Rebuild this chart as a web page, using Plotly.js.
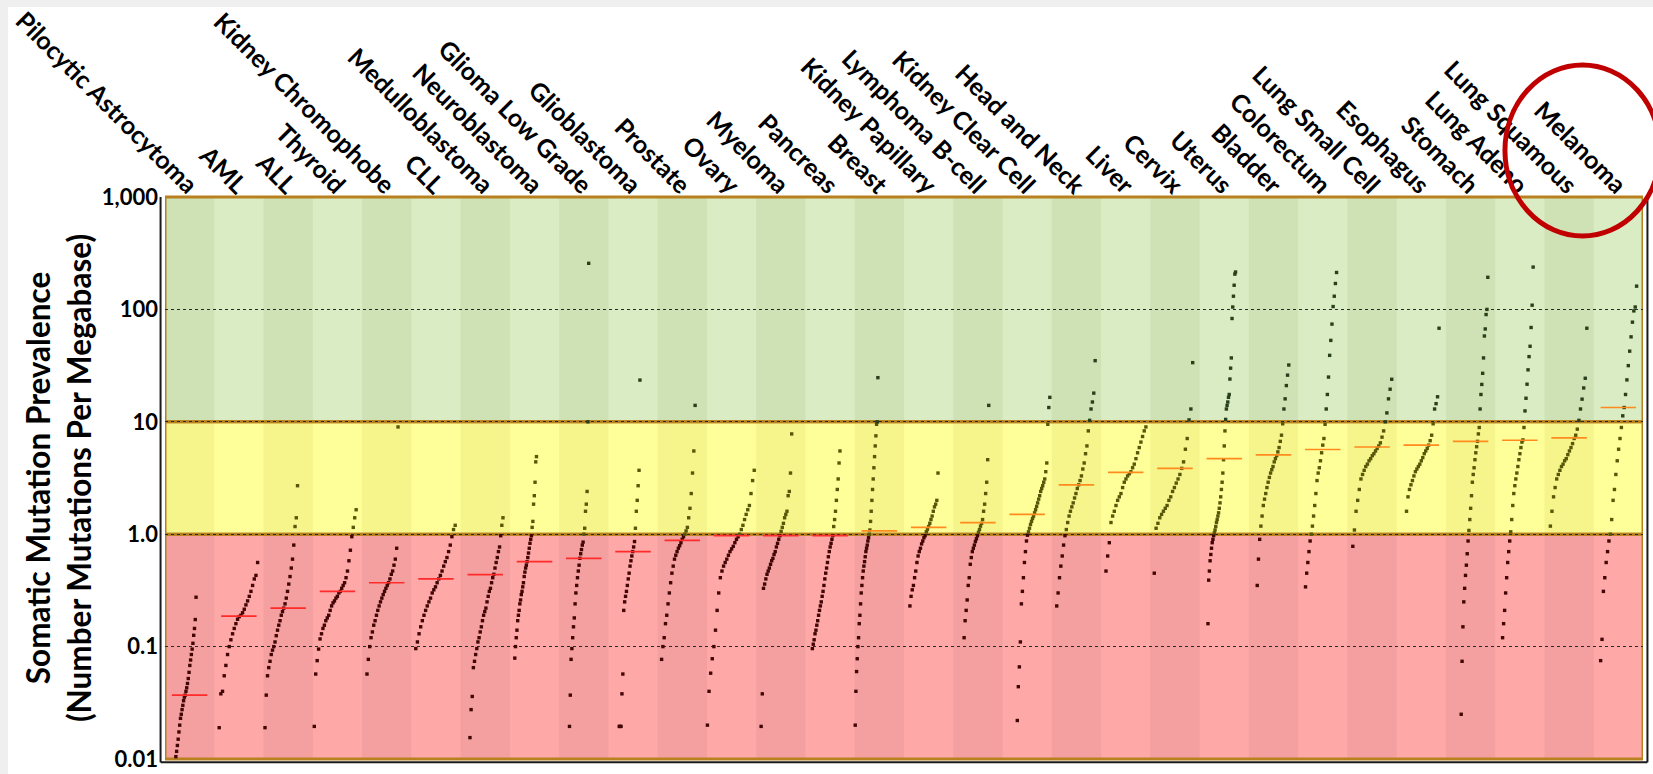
<!DOCTYPE html>
<html><head><meta charset="utf-8">
<script src="https://cdn.plot.ly/plotly-3.0.1.min.js"></script>
<style>
html,body{margin:0;padding:0;background:#fff;overflow:hidden;}
#chart{position:absolute;left:0;top:0;width:1653px;height:774px;}
.strip{position:absolute;background:#efefef;}
</style></head><body>
<div id="chart"></div>
<div class="strip" style="left:0;top:0;width:1653px;height:7px"></div>
<div class="strip" style="left:0;top:0;width:8px;height:774px"></div>
<script>
// ---------- DATA ----------
const categories = ['Pilocytic Astrocytoma','AML','ALL','Thyroid','Kidney Chromophobe','CLL','Medulloblastoma','Neuroblastoma','Glioma Low Grade','Glioblastoma','Prostate','Ovary','Myeloma','Pancreas','Breast','Kidney Papillary','Lymphoma B-cell','Kidney Clear Cell','Head and Neck','Liver','Cervix','Uterus','Bladder','Colorectum','Lung Small Cell','Esophagus','Stomach','Lung Adeno','Lung Squamous','Melanoma'];

const pilocyticAstrocytoma = [0.0105,0.0117,0.0132,0.015,0.0174,0.02,0.023,0.025,0.0275,0.03,0.033,0.0355,0.037,0.04,0.043,0.047,0.052,0.059,0.068,0.076,0.085,0.095,0.107,0.126,0.145,0.174,0.275];
const aml = [0.019,0.038,0.040,0.055,0.068,0.085,0.10,0.115,0.13,0.145,0.16,0.175,0.185,0.19,0.20,0.215,0.235,0.255,0.28,0.31,0.35,0.40,0.43,0.56];
const allLeuk = [0.019,0.037,0.055,0.065,0.074,0.085,0.093,0.10,0.11,0.125,0.14,0.155,0.17,0.19,0.205,0.22,0.24,0.27,0.31,0.36,0.42,0.5,0.6,0.8,1.17,1.4,2.7];
const thyroid = [0.0195,0.057,0.075,0.095,0.117,0.13,0.145,0.155,0.17,0.18,0.19,0.21,0.23,0.245,0.255,0.27,0.28,0.30,0.31,0.33,0.35,0.37,0.41,0.47,0.58,0.72,0.95,1.15,1.4,1.65];
const kidneyChromophobe = [0.057,0.077,0.10,0.12,0.135,0.155,0.17,0.19,0.21,0.23,0.25,0.27,0.29,0.31,0.33,0.35,0.37,0.40,0.44,0.47,0.53,0.6,0.75,9.0];
const cll = [0.096,0.11,0.13,0.15,0.17,0.19,0.21,0.23,0.25,0.27,0.30,0.32,0.34,0.37,0.40,0.43,0.47,0.52,0.57,0.62,0.70,0.80,0.95,1.1,1.2];
const medulloblastoma = [0.0155,0.0275,0.036,0.065,0.074,0.085,0.096,0.11,0.12,0.135,0.15,0.17,0.19,0.205,0.22,0.25,0.28,0.31,0.33,0.37,0.41,0.44,0.50,0.56,0.62,0.70,0.77,0.97,1.2,1.4];
const neuroblastoma = [0.079,0.10,0.12,0.14,0.17,0.19,0.21,0.24,0.26,0.29,0.31,0.34,0.37,0.42,0.46,0.50,0.53,0.57,0.62,0.68,0.75,0.83,0.9,0.97,1.15,1.3,1.85,2.2,2.9,4.4,4.9];
const gliomaLowGrade = [0.0195,0.037,0.077,0.096,0.12,0.15,0.18,0.24,0.30,0.35,0.41,0.47,0.53,0.61,0.67,0.73,0.80,0.85,1.0,1.13,1.6,1.85,2.4,10,257];
const glioblastoma = [0.0195,0.0195,0.0195,0.038,0.057,0.21,0.25,0.28,0.31,0.35,0.40,0.45,0.52,0.58,0.64,0.70,0.77,0.86,1.13,1.6,2.0,2.7,3.7,23.5];
const prostate = [0.077,0.10,0.12,0.16,0.19,0.24,0.30,0.37,0.45,0.52,0.60,0.65,0.70,0.75,0.79,0.84,0.9,0.95,1.0,1.07,1.15,1.4,1.7,2.3,3.5,5.5,14];
const ovary = [0.02,0.04,0.058,0.078,0.10,0.14,0.21,0.30,0.41,0.47,0.52,0.56,0.60,0.65,0.70,0.74,0.78,0.84,0.90,0.95,1.0,1.1,1.2,1.35,1.5,1.65,1.8,2.3,3.0,3.7];
const myeloma = [0.0195,0.038,0.33,0.36,0.40,0.44,0.47,0.50,0.54,0.58,0.61,0.66,0.70,0.77,0.83,0.90,0.97,1.06,1.15,1.25,1.4,1.5,1.6,2.2,2.4,3.5,7.8];
const pancreas = [0.096,0.105,0.115,0.13,0.14,0.155,0.17,0.19,0.21,0.23,0.25,0.28,0.31,0.35,0.40,0.45,0.50,0.56,0.63,0.70,0.77,0.83,0.90,0.97,1.17,1.35,1.6,2.0,2.5,3.1,4.3,5.5];
const breast = [0.02,0.04,0.06,0.078,0.10,0.12,0.16,0.19,0.24,0.30,0.35,0.41,0.47,0.52,0.57,0.63,0.70,0.75,0.80,0.87,0.93,1.0,1.09,1.3,1.6,2.0,2.5,3.1,3.9,4.9,6.1,7.5,9.5,10,24.7];
const kidneyPapillary = [0.23,0.28,0.32,0.35,0.41,0.47,0.56,0.64,0.70,0.75,0.82,0.87,0.93,0.97,1.05,1.1,1.17,1.25,1.35,1.45,1.6,1.75,1.85,2.0,3.5];
const lymphomaBCell = [0.12,0.17,0.21,0.26,0.35,0.41,0.54,0.62,0.70,0.75,0.80,0.86,0.91,0.97,1.04,1.1,1.18,1.25,1.35,1.6,1.85,2.3,2.9,4.6,14];
const kidneyClearCell = [0.022,0.044,0.066,0.11,0.24,0.31,0.41,0.56,0.70,0.87,0.98,1.05,1.13,1.22,1.3,1.38,1.45,1.55,1.65,1.77,1.9,2.05,2.2,2.4,2.55,2.7,2.9,3.1,3.6,4.3,9.5,13.4,16.5];
const headAndNeck = [0.23,0.30,0.41,0.52,0.64,0.80,0.97,1.1,1.27,1.45,1.6,1.75,1.9,2.1,2.3,2.55,2.75,3.0,3.3,3.8,4.3,5.2,6.1,8.3,10.3,13,15,18,35];
const liver = [0.47,0.64,0.84,1.27,1.45,1.6,1.8,2.0,2.15,2.3,2.6,2.9,3.1,3.3,3.45,3.6,3.9,4.2,4.7,5.3,5.9,6.6,7.4,8.3,9.0];
const cervix = [0.45,1.13,1.25,1.4,1.5,1.6,1.7,1.8,2.0,2.15,2.4,2.6,2.85,3.1,3.4,3.85,4.4,5.7,7.1,10.4,13,33.6];
const uterus = [0.16,0.39,0.47,0.58,0.66,0.75,0.84,0.90,0.97,1.03,1.09,1.17,1.27,1.35,1.45,1.55,1.7,1.9,2.15,2.5,2.9,3.5,4.6,6.1,8.3,10.5,13,14,15,16.5,17.5,24,30,37,83,105,131,164,206,215];
const bladder = [0.35,0.60,0.90,1.18,1.45,1.8,2.05,2.3,2.6,2.9,3.2,3.5,3.75,4.0,4.4,4.7,5.0,5.4,5.9,6.7,7.6,9.6,13,16,21,26,32];
const colorectum = [0.34,0.45,0.56,0.70,0.87,1.0,1.18,1.45,1.8,2.3,3.0,3.5,3.9,4.5,5.3,6.2,7.1,9.5,13,17.5,25,39,53,74,106,131,170,213];
const lungSmallCell = [0.78,1.09,1.6,2.0,2.5,3.1,3.4,3.7,4.0,4.2,4.5,4.7,5.0,5.2,5.5,5.8,6.1,6.5,7.3,8.3,10,12,16,19.5,23.9];
const esophagus = [1.6,2.15,2.5,2.75,3.0,3.3,3.6,3.8,4.0,4.2,4.5,4.8,5.2,5.5,5.8,6.2,6.8,7.6,9.6,13,14.5,16.7,68];
const stomach = [0.025,0.074,0.15,0.25,0.33,0.43,0.53,0.67,0.87,1.08,1.35,1.7,2.2,2.9,3.4,3.9,4.6,5.3,6.0,6.7,7.8,8.9,13,17.5,21.5,27,37,58,67,90,100,193];
const lungAdeno = [0.12,0.16,0.21,0.30,0.41,0.56,0.70,0.87,1.05,1.35,1.8,2.3,2.7,3.1,3.5,4.0,4.6,5.2,5.9,6.6,6.9,8.9,12.5,16.2,21.6,29,38,47,69,109,238];
const lungSquamous = [1.18,1.6,2.15,2.6,3.1,3.4,3.7,4.0,4.2,4.5,4.7,5.1,5.5,5.9,6.4,7.1,7.6,8.6,10.3,13,15.9,20,24.4,68];
const melanoma = [0.075,0.116,0.31,0.41,0.56,0.70,0.87,1.0,1.35,2.0,2.5,3.4,4.5,5.7,7.1,8.9,11.3,13.4,17.5,23.6,31.6,42.5,57,77,97,105,161];

const seriesValues = [pilocyticAstrocytoma,aml,allLeuk,thyroid,kidneyChromophobe,cll,medulloblastoma,neuroblastoma,gliomaLowGrade,glioblastoma,prostate,ovary,myeloma,pancreas,breast,kidneyPapillary,lymphomaBCell,kidneyClearCell,headAndNeck,liver,cervix,uterus,bladder,colorectum,lungSmallCell,esophagus,stomach,lungAdeno,lungSquamous,melanoma];

const medianValues = [0.037,0.187,0.22,0.31,0.37,0.40,0.437,0.57,0.61,0.70,0.88,0.97,0.97,0.97,1.07,1.15,1.27,1.5,2.75,3.55,3.85,4.7,5.07,5.67,5.97,6.2,6.7,6.85,7.2,13.4];

const tickValues = [0.01,0.1,1,10,100,1000];
const tickLabels = ['0.01','0.1','1.0','10','100','1,000'];
const bandLimits = [0.01,1,10,1000];
const yTitle = 'Somatic Mutation Prevalence<br>(Number Mutations Per Megabase)';

// ---------- LAYOUT SETTINGS (not data) ----------
const pointSpan = [[-0.28,0.13],[-0.40,0.38],[-0.47,0.19],[-0.47,0.38],[-0.40,0.23],[-0.41,0.39],[-0.31,0.36],[-0.40,0.04],[-0.29,0.10],[-0.28,0.14],[-0.42,0.26],[-0.49,0.46],[-0.40,0.22],[-0.36,0.20],[-0.49,-0.03],[-0.38,0.19],[-0.28,0.22],[-0.20,0.46],[-0.40,0.38],[-0.40,0.41],[-0.42,0.36],[-0.33,0.23],[-0.33,0.31],[-0.35,0.28],[-0.39,0.40],[-0.30,0.36],[-0.19,0.35],[-0.35,0.27],[-0.38,0.36],[-0.36,0.37]];
const bandFill = [['#fea8a8','#f4a0a0'],['#ffff99','#f6f58b'],['#d9ecc3','#cfe2b6']];
const borderColor = '#b8801e';
const FONT = 'Lato, "Open Sans", sans-serif';

function dotColor(v){ return v < bandLimits[1] ? '#420505' : (v < bandLimits[2] ? '#57570a' : '#283f1c'); }

const xs=[], ys=[], cs=[];
seriesValues.forEach((vals,i)=>{
  const sorted = vals.slice().sort((a,b)=>a-b);
  const a = pointSpan[i][0], b = pointSpan[i][1], n = sorted.length;
  sorted.forEach((v,k)=>{
    xs.push(i + a + (b-a)*(n>1 ? k/(n-1) : 0.5));
    ys.push(v); cs.push(dotColor(v));
  });
});

const medRed = {x:[],y:[]}, medOrange = {x:[],y:[]};
medianValues.forEach((m,i)=>{
  const t = m < 1 ? medRed : medOrange;
  t.x.push(i-0.36, i+0.36, null); t.y.push(m, m, null);
});

const traces = [
  {type:'scatter', mode:'markers', x:xs, y:ys, marker:{symbol:'square', size:3.4, color:cs, line:{width:0}}, hoverinfo:'skip', showlegend:false},
  {type:'scatter', mode:'lines', x:medRed.x, y:medRed.y, line:{color:'#ff2a2a', width:1.7}, hoverinfo:'skip', showlegend:false},
  {type:'scatter', mode:'lines', x:medOrange.x, y:medOrange.y, line:{color:'#ff8a1e', width:1.7}, hoverinfo:'skip', showlegend:false}
];

const yMinLog = Math.log10(tickValues[0]), yMaxLog = Math.log10(tickValues[tickValues.length-1]);
function py(v){ return (Math.log10(v)-yMinLog)/(yMaxLog-yMinLog); }

const shapes = [];
for (let b=0;b<3;b++){
  const y0 = py(bandLimits[b]), y1 = py(bandLimits[b+1]);
  shapes.push({type:'rect', layer:'below', xref:'x', yref:'paper', x0:-0.5, x1:categories.length-0.5, y0:y0, y1:y1, fillcolor:bandFill[b][0], line:{width:0}});
  for (let i=0;i<categories.length;i+=2){
    shapes.push({type:'rect', layer:'below', xref:'x', yref:'paper', x0:i-0.5, x1:i+0.5, y0:y0, y1:y1, fillcolor:bandFill[b][1], line:{width:0}});
  }
}
for (let b=0;b<3;b++){
  const y0 = py(bandLimits[b]), y1 = py(bandLimits[b+1]);
  shapes.push({type:'rect', layer:'below', xref:'x', yref:'paper', x0:-0.5, x1:categories.length-0.5, y0:y0, y1:y1, fillcolor:'rgba(0,0,0,0)', line:{color:borderColor, width:3}});
}
shapes.push({type:'line', layer:'above', xref:'paper', yref:'paper', x0:-0.003, x1:-0.003, y0:-0.006, y1:1.0, line:{color:'#1a1a1a', width:2}});
shapes.push({type:'line', layer:'above', xref:'paper', yref:'paper', x0:-0.003, x1:1.003, y0:-0.006, y1:-0.006, line:{color:'#1a1a1a', width:2}});
shapes.push({type:'line', layer:'above', xref:'paper', yref:'paper', x0:1.003, x1:1.003, y0:-0.006, y1:1.0, line:{color:'#1a1a1a', width:2}});
shapes.push({type:'circle', layer:'above', xref:'paper', yref:'paper', x0:0.9066, x1:1.0115, y0:0.9306, y1:1.2349, line:{color:'#c00000', width:5}, fillcolor:'rgba(0,0,0,0)'});

const layout = {
  width:1653, height:774,
  margin:{l:165, r:10, t:197, b:15, pad:0},
  paper_bgcolor:'rgba(0,0,0,0)', plot_bgcolor:'#ffffff',
  showlegend:false, hovermode:false,
  font:{family:FONT, color:'#000'},
  xaxis:{range:[-0.5, categories.length-0.5], side:'top', tickmode:'array',
    tickvals:categories.map((c,i)=>i), ticktext:categories, tickangle:45,
    ticklabelstandoff:-8, ticklabelshift:6,
    showgrid:false, zeroline:false, showline:false, ticks:'',
    tickfont:{family:FONT, size:25, color:'#000', weight:700}, fixedrange:true, automargin:false},
  yaxis:{type:'log', range:[yMinLog, yMaxLog], tickmode:'array', tickvals:tickValues, ticktext:tickLabels,
    showgrid:true, gridcolor:'#2a2a2a', griddash:'dot', gridwidth:1, zeroline:false, showline:false, ticks:'',
    ticklabelstandoff:6,
    tickfont:{family:FONT, size:22, color:'#000', weight:700},
    title:{text:yTitle, font:{family:FONT, size:31.5, color:'#000', weight:700}, standoff:0},
    fixedrange:true, automargin:false},
  shapes:shapes
};

Plotly.newPlot('chart', traces, layout, {staticPlot:true, displayModeBar:false});
</script>
</body></html>
